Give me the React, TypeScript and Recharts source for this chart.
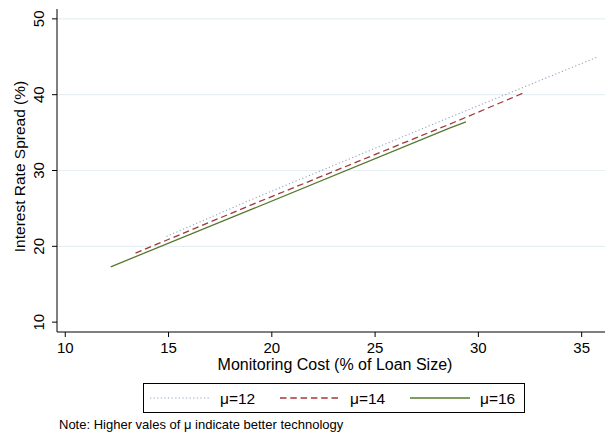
import { Legend, Line, LineChart, ReferenceLine, XAxis, YAxis } from 'recharts';

type Point = { cost: number; spread: number };

const costTicks = [10, 15, 20, 25, 30, 35];
const spreadTicks = [10, 20, 30, 40, 50];
const gridValues = [20, 30, 40, 50];

// monitoring cost (% of loan size) against the spread, one pair of lists per mu
const mu12Cost = [14.9, 18.95, 28.6, 35.8];
const mu12Spread = [21.3, 26.1, 37.0, 45.0];
const mu14Cost = [13.4, 18.95, 28.6, 32.25];
const mu14Spread = [19.1, 25.4, 36.1, 40.3];
const mu16Cost = [12.2, 18.95, 28.6, 29.4];
const mu16Spread = [17.3, 24.8, 35.6, 36.4];

const toPoints = (cost: number[], spread: number[]): Point[] =>
  cost.map((c, i) => ({ cost: c, spread: spread[i] }));

const series = [
  { key: 'mu12', name: 'μ=12', data: toPoints(mu12Cost, mu12Spread), color: '#8fa7c4', dash: '1.2 2.4', width: 1.1 },
  { key: 'mu14', name: 'μ=14', data: toPoints(mu14Cost, mu14Spread), color: '#a5363d', dash: '6.5 3.8', width: 1.3 },
  { key: 'mu16', name: 'μ=16', data: toPoints(mu16Cost, mu16Spread), color: '#56782d', dash: undefined, width: 1.3 },
];

const FONT = 'Arial, "Liberation Sans", sans-serif';

const SpreadTick = ({ x, y, payload }: any) => (
  <text
    x={x - 6}
    y={y}
    transform={`rotate(-90, ${x - 6}, ${y})`}
    textAnchor="middle"
    fontSize={15}
    fontFamily={FONT}
    fill="#000"
  >
    {payload.value}
  </text>
);

const SpreadTitle = ({ viewBox }: any) => {
  const cx = viewBox.x + 25;
  const cy = viewBox.y + viewBox.height / 2 - 4;
  return (
    <text
      x={cx}
      y={cy}
      transform={`rotate(-90, ${cx}, ${cy})`}
      textAnchor="middle"
      fontSize={15.5}
      fontFamily={FONT}
      fill="#000"
    >
      Interest Rate Spread (%)
    </text>
  );
};

const CostTitle = ({ viewBox }: any) => (
  <text
    x={viewBox.x + viewBox.width / 2 + 4}
    y={370}
    textAnchor="middle"
    fontSize={16}
    fontFamily={FONT}
    fill="#000"
  >
    Monitoring Cost (% of Loan Size)
  </text>
);

const MuLegend = () => (
  <svg width={382} height={30} style={{ display: 'block' }}>
    <rect x={0.5} y={0.5} width={381} height={29} fill="#fff" stroke="#000" />
    {series.map((s, i) => {
      const x0 = 7 + i * 130;
      return (
        <g key={s.key}>
          <line
            x1={x0}
            x2={x0 + 60}
            y1={15}
            y2={15}
            stroke={s.color}
            strokeWidth={s.width}
            strokeDasharray={s.dash}
          />
          <text x={x0 + 70} y={21} fontSize={15.5} fontFamily={FONT} fill="#000">
            {s.name}
          </text>
        </g>
      );
    })}
  </svg>
);

export default function App() {
  return (
    <div
      style={{
        position: 'absolute',
        left: 0,
        top: 0,
        width: 605,
        height: 434,
        overflow: 'hidden',
        background: '#fff',
      }}
    >
      <LineChart width={605} height={434} margin={{ top: 9, right: 0, left: 0, bottom: 62 }}>
        {gridValues.map((v) => (
          <ReferenceLine key={v} y={v} stroke="#e6eff1" strokeWidth={1.2} />
        ))}
        <XAxis
          type="number"
          dataKey="cost"
          domain={[9.6, 36.13]}
          allowDataOverflow
          ticks={costTicks}
          height={40}
          tickSize={5}
          tickMargin={5}
          stroke="#000"
          tick={{ fill: '#000', fontSize: 15, fontFamily: FONT }}
          label={<CostTitle />}
        />
        <YAxis
          type="number"
          dataKey="spread"
          domain={[8.7, 51.3]}
          allowDataOverflow
          ticks={spreadTicks}
          width={57}
          tickSize={5}
          stroke="#000"
          tick={<SpreadTick />}
          label={<SpreadTitle />}
        />
        {series.map((s) => (
          <Line
            key={s.key}
            data={s.data}
            dataKey="spread"
            name={s.name}
            type="linear"
            stroke={s.color}
            strokeWidth={s.width}
            strokeDasharray={s.dash}
            dot={false}
            activeDot={false}
            isAnimationActive={false}
          />
        ))}
        <Legend
          layout="horizontal"
          align="center"
          verticalAlign="middle"
          content={<MuLegend />}
          wrapperStyle={{ left: 143, top: 383, bottom: 'auto', width: 382, height: 30 }}
        />
      </LineChart>
      <div
        style={{
          position: 'absolute',
          left: 59,
          top: 418,
          fontFamily: FONT,
          fontSize: 13,
          lineHeight: '14px',
          color: '#000',
          whiteSpace: 'nowrap',
        }}
      >
        Note: Higher vales of μ indicate better technology
      </div>
    </div>
  );
}
